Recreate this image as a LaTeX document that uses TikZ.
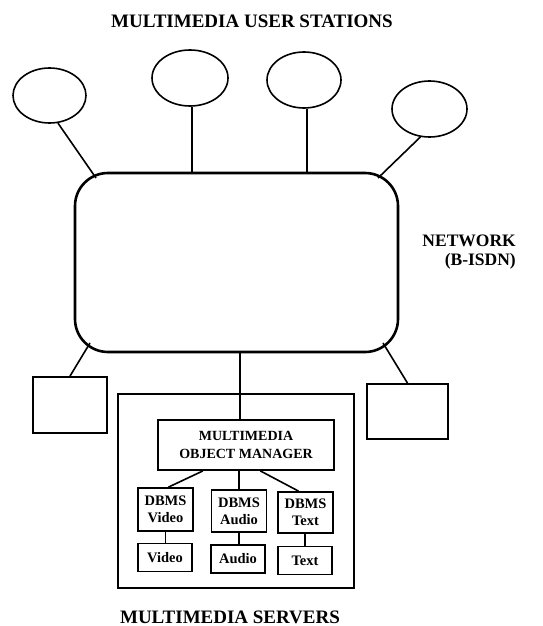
\documentclass[tikz,border=0pt]{standalone}
\usepackage{fontspec}
\setmainfont{Liberation Serif}
\usetikzlibrary{shapes.geometric}
\begin{document}
\begin{tikzpicture}[x=1pt,y=-1pt,
  station/.style={ellipse,draw,line width=1.6pt,inner sep=0pt},
  netcloud/.style={draw,rectangle,rounded corners=33pt,line width=2.6pt,
    minimum width=323pt,minimum height=179pt,inner sep=0pt},
  hostbox/.style={draw,rectangle,line width=1.8pt,inner sep=0pt},
  dbbox/.style={draw,rectangle,line width=1.8pt,inner sep=0pt,minimum width=55pt,
    align=center,font=\bfseries\fontsize{14.5}{17}\selectfont},
  databox/.style={draw,rectangle,line width=1.8pt,inner sep=0pt,minimum width=54pt,
    minimum height=28pt,font=\bfseries\fontsize{14.5}{17}\selectfont},
  link/.style={line width=1.6pt},
  biglabel/.style={font=\bfseries\fontsize{19}{22}\selectfont,inner sep=0pt}
]
\useasboundingbox (0,0) rectangle (542,626);

% heading
\node[biglabel] (ttl) at (252,21) {MULTIMEDIA USER STATIONS};

% user stations
\node[station,minimum width=73pt,minimum height=55pt] (e1) at (49.5,95.5) {};
\node[station,minimum width=76pt,minimum height=56pt] (e2) at (190,78) {};
\node[station,minimum width=74pt,minimum height=56pt] (e3) at (304,80) {};
\node[station,minimum width=75pt,minimum height=56pt] (e4) at (429.5,109) {};

% the network
\node[netcloud] (net) at (236.5,262.5) {};
\node[font=\bfseries\fontsize{17.5}{19}\selectfont,align=right,anchor=east,inner sep=0pt]
  (netlbl) at (516,252) {NETWORK\\(B-ISDN)};

% attachment points on the network outline
\coordinate (n1) at (96,178);
\coordinate (n2) at (192,173);
\coordinate (n3) at (307,173);
\coordinate (n4) at (378,178);
\coordinate (n5) at (90,343);
\coordinate (n6) at (240,352);
\coordinate (n7) at (383,343);

\draw[link] (e1.-73) -- (n1);
\draw[link] (e2.south -| n2) -- (n2);
\draw[link] (e3.south -| n3) -- (n3);
\draw[link] (e4.-108) -- (n4);

% stand-alone hosts
\node[hostbox,minimum width=74pt,minimum height=56pt] (lb) at (70,405) {};
\node[hostbox,minimum width=81pt,minimum height=55pt] (rb) at (407.5,411.5) {};
\draw[link] (n5) -- (lb.north);
\draw[link] (n7) -- (rb.north);

% server site
\node[hostbox,minimum width=236pt,minimum height=194pt] (srv) at (236,491) {};
\node[hostbox,minimum width=176pt,minimum height=50pt,align=center,
  font=\bfseries\fontsize{14}{18}\selectfont] (mgr) at (246,445)
  {MULTIMEDIA\\OBJECT MANAGER};
\draw[link] (n6) -- (n6 |- mgr.north);

\node[dbbox,minimum height=43pt] (dv) at (165.5,509.5) {DBMS\\Video};
\node[dbbox,minimum height=42pt] (da) at (239,511) {DBMS\\Audio};
\node[dbbox,minimum height=41pt] (dt) at (305.5,512.5) {DBMS\\Text};

\node[databox] (v) at (165,557.5) {Video};
\node[databox] (a) at (238,559) {Audio};
\node[databox] (t) at (305,560.5) {Text};

\draw[link] (mgr.211) -- ([xshift=3pt]dv.north);
\draw[link] (mgr.south -| da.north) -- (da.north);
\draw[link] (mgr.299) -- ([xshift=-7pt]dt.north);
\draw[link] (dv.south) -- (v.north -| dv.south);
\draw[link] (da.south) -- (a.north -| da.south);
\draw[link] (dt.south -| t.north) -- (t.north);

\node[biglabel] (slbl) at (230,617) {MULTIMEDIA SERVERS};
\end{tikzpicture}
\end{document}
